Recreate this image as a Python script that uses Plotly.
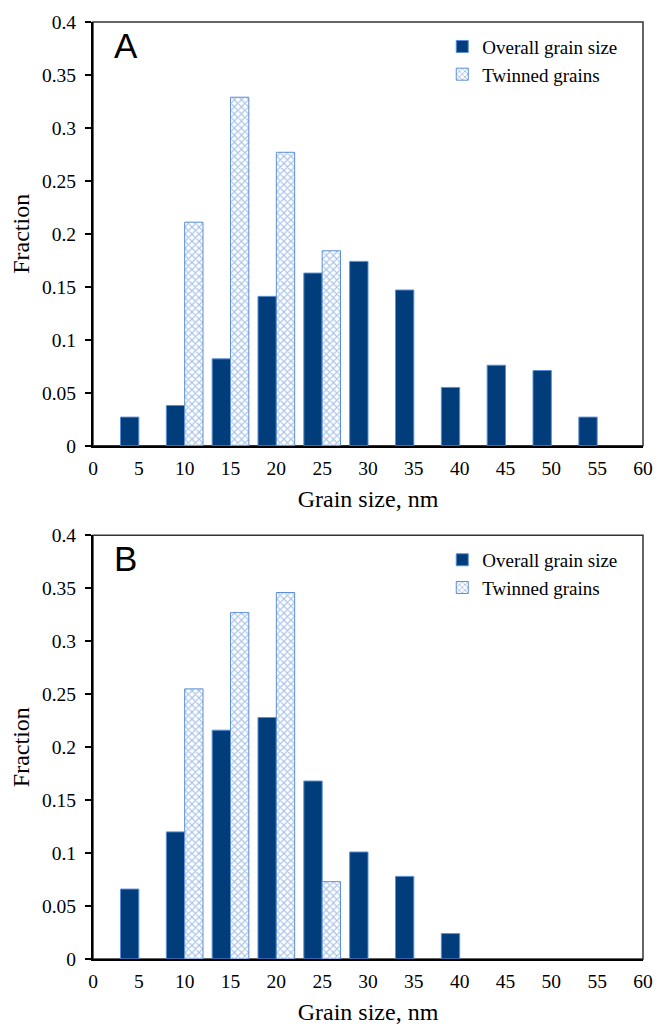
import plotly.graph_objects as go

# grain size bins (nm)
bins = [5, 10, 15, 20, 25, 30, 35, 40, 45, 50, 55]
twin_bins = [10, 15, 20, 25]

# panel A
overall_a = [0.027, 0.038, 0.082, 0.141, 0.163, 0.174, 0.147, 0.055, 0.076, 0.071, 0.027]
twinned_a = [0.211, 0.329, 0.277, 0.184]

# panel B
bins_b = [5, 10, 15, 20, 25, 30, 35, 40]
overall_b = [0.066, 0.120, 0.216, 0.228, 0.168, 0.101, 0.078, 0.024]
twinned_b = [0.255, 0.327, 0.346, 0.073]

x_ticks = [0, 5, 10, 15, 20, 25, 30, 35, 40, 45, 50, 55, 60]
y_ticks = [0, 0.05, 0.1, 0.15, 0.2, 0.25, 0.3, 0.35, 0.4]
y_ticktext = ['0', '0.05', '0.1', '0.15', '0.2', '0.25', '0.3', '0.35', '0.4']

DARK = '#003D7A'
LIGHT = '#5B8ED6'
SERIF = 'Liberation Serif'

fig = go.Figure()

panels = [
    ('x', 'y', 'legend', bins, overall_a, twinned_a),
    ('x2', 'y2', 'legend2', bins_b, overall_b, twinned_b),
]
for xa, ya, lg, xb, ov, tw in panels:
    fig.add_trace(go.Bar(
        x=xb, y=ov, name='Overall grain size', xaxis=xa, yaxis=ya, legend=lg,
        marker=dict(color=DARK, line=dict(color=LIGHT, width=1)),
        offsetgroup='overall',
    ))
    fig.add_trace(go.Bar(
        x=twin_bins, y=tw, name='Twinned grains', xaxis=xa, yaxis=ya, legend=lg,
        marker=dict(color='white', line=dict(color=LIGHT, width=1),
                    pattern=dict(shape='x', fgcolor='#4F86D4', bgcolor='white',
                                 size=5, solidity=0.4)),
        offsetgroup='twin',
    ))

xaxis_common = dict(
    range=[0, 60], tickvals=x_ticks, showgrid=False, zeroline=False,
    showline=True, linecolor='black', linewidth=2, ticks='',
    ticklabelstandoff=4,
    tickfont=dict(family=SERIF, size=19.5, color='black'),
)
yaxis_common = dict(
    range=[0, 0.4], tickvals=y_ticks, ticktext=y_ticktext, showgrid=False,
    zeroline=False, showline=True, linecolor='black', linewidth=2,
    ticks='outside', ticklen=6, tickcolor='black', tickwidth=1.5,
    ticklabelstandoff=5,
    tickfont=dict(family=SERIF, size=19.5, color='black'),
)

fig.update_layout(
    width=666, height=1033,
    margin=dict(l=93, r=23, t=17, b=65),
    plot_bgcolor='white', paper_bgcolor='white',
    barmode='group', bargap=0.2, bargroupgap=0,
    font=dict(family=SERIF, color='black'),
    xaxis=dict(xaxis_common, anchor='y', domain=[0, 1],
               title=dict(text='Grain size, nm', font=dict(size=24), standoff=12)),
    yaxis=dict(yaxis_common, anchor='x', domain=[0.5478, 1],
               title=dict(text='Fraction', font=dict(size=24), standoff=6)),
    xaxis2=dict(xaxis_common, anchor='y2', domain=[0, 1],
                title=dict(text='Grain size, nm', font=dict(size=24), standoff=12)),
    yaxis2=dict(yaxis_common, anchor='x2', domain=[0, 0.4522],
                title=dict(text='Fraction', font=dict(size=24), standoff=6)),
    legend=dict(x=0.635, y=0.994, xanchor='left', yanchor='top',
                bgcolor='rgba(0,0,0,0)', font=dict(family=SERIF, size=19),
                tracegroupgap=0),
    legend2=dict(x=0.635, y=0.4462, xanchor='left', yanchor='top',
                 bgcolor='rgba(0,0,0,0)', font=dict(family=SERIF, size=19),
                 tracegroupgap=0),
    showlegend=True,
)

# thin frame on top/right
for xd, yd in [('x domain', 'y domain'), ('x2 domain', 'y2 domain')]:
    fig.add_shape(type='rect', xref=xd, yref=yd, x0=0, x1=1, y0=0, y1=1,
                  line=dict(color='#333333', width=1.5), layer='below')

# panel letters
for letter, yd in [('A', 'y domain'), ('B', 'y2 domain')]:
    fig.add_annotation(text=letter, xref='x domain', yref=yd, x=0.035, y=0.945,
                       xanchor='left', yanchor='middle', showarrow=False,
                       font=dict(family='Liberation Sans', size=35, color='black'))

# drop the default body margin so the figure fills the window exactly
fig.write_html('out.html', config={'displayModeBar': False},
               post_script="document.body.style.margin='0';")
